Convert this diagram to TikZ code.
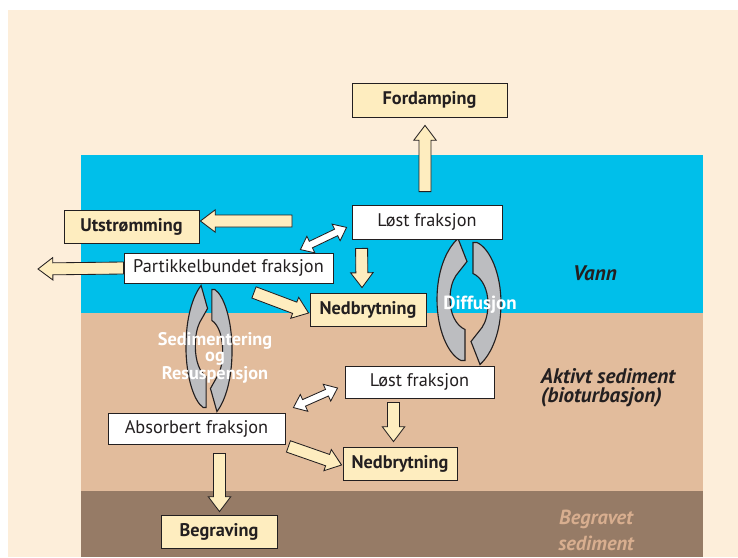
\documentclass[tikz,border=0pt]{standalone}
\usepackage{fontspec}
\setmainfont{PT Sans}
\usetikzlibrary{calc}

\definecolor{paper}{HTML}{FDEEDA}
\definecolor{water}{HTML}{00BFEA}
\definecolor{activesed}{HTML}{E2BC9C}
\definecolor{buriedsed}{HTML}{967B66}
\definecolor{boxyellow}{HTML}{FEEDBF}
\definecolor{cyclegray}{HTML}{BCBDC0}
\definecolor{buriedtext}{HTML}{D8AE8F}
\definecolor{ink}{HTML}{231F20}

\tikzset{
  fraction/.style={draw=ink, fill=white, line width=0.6pt, text=ink, inner sep=0pt,
    font=\fontsize{13}{15}\selectfont},
  outcome/.style={fraction, fill=boxyellow, font=\fontsize{13}{15}\selectfont\bfseries},
  layerlabel/.style={text=ink, align=left, font=\fontsize{15}{13.5}\selectfont\bfseries\itshape},
  flowlabel/.style={text=white, align=center, font=\fontsize{13}{11.5}\selectfont\bfseries},
  yarrow/.style={fill=boxyellow, draw=ink, line width=0.6pt, line join=miter},
  warrow/.style={fill=white, draw=ink, line width=0.6pt, line join=miter},
  cycarrow/.style={fill=cyclegray, draw=ink, line width=0.8pt},
}

% broad arrow from #2 to #3
\newcommand\flowarrow[3][yarrow]{%
  \coordinate (fa-a) at #2;
  \coordinate (fa-b) at #3;
  \coordinate (fa-n) at ($(fa-b)!3.7mm!(fa-a)$);
  \draw[#1] ($(fa-a)!1.5mm!90:(fa-b)$) -- ($(fa-n)!1.5mm!90:(fa-b)$)
    -- ($(fa-n)!2.8mm!90:(fa-b)$) -- (fa-b) -- ($(fa-n)!2.8mm!-90:(fa-b)$)
    -- ($(fa-n)!1.5mm!-90:(fa-b)$) -- ($(fa-a)!1.5mm!-90:(fa-b)$) -- cycle;
}

% broad arrow with a head at both ends
\newcommand\swaparrow[2]{%
  \coordinate (sa-a) at #1;
  \coordinate (sa-b) at #2;
  \coordinate (sa-m) at ($(sa-a)!2.9mm!(sa-b)$);
  \coordinate (sa-n) at ($(sa-b)!2.9mm!(sa-a)$);
  \draw[warrow] (sa-a) -- ($(sa-m)!2.3mm!90:(sa-b)$) -- ($(sa-m)!0.9mm!90:(sa-b)$)
    -- ($(sa-n)!0.9mm!-90:(sa-a)$) -- ($(sa-n)!2.3mm!-90:(sa-a)$) -- (sa-b)
    -- ($(sa-n)!2.3mm!90:(sa-a)$) -- ($(sa-n)!0.9mm!90:(sa-a)$)
    -- ($(sa-m)!0.9mm!-90:(sa-b)$) -- ($(sa-m)!2.3mm!-90:(sa-b)$) -- cycle;
}

% two curved arrows turning round a centre
\newcommand\cyclepair[2]{%
  \begin{scope}[shift={#1}, xscale=#2]
    \foreach \turn in {0,180}
      \draw[cycarrow, rotate=\turn] (-4,-59) -- (-4,-28)
        .. controls (-13,-24) and (-19,-12) .. (-19,2)
        .. controls (-19,12) and (-17,20) .. (-13,26) -- (-2,40) -- (-11,63)
        .. controls (-23,52) and (-32,30) .. (-32,2)
        .. controls (-32,-28) and (-21,-53) .. (-8,-59) -- cycle;
  \end{scope}
}

\begin{document}
\begin{tikzpicture}[x=0.25mm,y=0.25mm]
\useasboundingbox (0,0) rectangle (738,557);
\fill[white] (0,0) rectangle (738,557);
\fill[paper] (8,0) rectangle (738,547);

% layers
\fill[water] (81,244) rectangle (703,402);
\fill[activesed] (81,66) rectangle (703,244);
\fill[buriedsed] (81,0) rectangle (703,66);

\cyclepair{(469,255.5)}{1}
\cyclepair{(209,208.5)}{0.72}

% boxes
\node[outcome, minimum width=38.75mm, minimum height=8.5mm] (fd) at (429.5,457) {Fordamping};
\node[fraction, minimum width=37.5mm, minimum height=8.5mm] (lw) at (427,335) {Løst fraksjon};
\node[outcome, minimum width=33.75mm, minimum height=8.25mm] (ut) at (131.5,330.5) {Utstrømming};
\node[fraction, minimum width=52.25mm, minimum height=7.5mm] (pb) at (228.5,289) {Partikkelbundet fraksjon};
\node[outcome, minimum width=29mm, minimum height=8.25mm] (nw) at (368,247.5) {Nedbrytning};
\node[fraction, minimum width=37.25mm, minimum height=8mm] (ls) at (419.5,175) {Løst fraksjon};
\node[fraction, minimum width=44.25mm, minimum height=7.75mm] (ab) at (196.5,128.5) {Absorbert fraksjon};
\node[outcome, minimum width=28.5mm, minimum height=8.25mm] (ns) at (400,93.5) {Nedbrytning};
\node[outcome, minimum width=29mm, minimum height=8.25mm] (bg) at (219,25.5) {Begraving};

\coordinate (ut-src) at (292,336);
\coordinate (pb-out) at (38,288);

% flows in the water
\flowarrow{($(lw.north)+(-2,13)$)}{($(fd.south)+(-4.5,-8)$)}
\flowarrow{(ut-src)}{($(ut.east)+(1,5.5)$)}
\flowarrow{(pb.west)}{(pb-out)}
\swaparrow{($(pb.north east)+(-33,3)$)}{($(lw.south west)+(-5,12)$)}
\flowarrow{($(lw.south west)+(10,-9)$)}{($(nw.north)+(-6,5)$)}
\flowarrow{($(pb.south)+(25.5,-9)$)}{($(nw.west)+(-1,-3.5)$)}

% flows in the sediment
\swaparrow{($(ab.north east)+(8,5)$)}{($(ls.west)+(-7,-6)$)}
\flowarrow{($(ls.south)+(-26,-4)$)}{($(ns.north)+(-6.5,5)$)}
\flowarrow{($(ab.south east)+(3,-2)$)}{($(ns.west)+(-1,-1.5)$)}
\flowarrow{($(ab.south)+(23,-9)$)}{($(bg.north)+(0.5,3)$)}

% labels
\node[flowlabel, font=\fontsize{13.5}{13.5}\selectfont\bfseries] (dif) at (480,252) {Diffusjon};
\node[flowlabel] (sed) at (215,199) {Sedimentering\\og\\Resuspensjon};
\node[layerlabel] (vann) at (595,284) {Vann};
\node[layerlabel, anchor=west] (akt) at (536,169.5) {Aktivt sediment\\(bioturbasjon)};
\node[layerlabel, text=buriedtext, align=center, font=\fontsize{14.5}{18.5}\selectfont\bfseries\itshape] (begr) at (596,27) {Begravet\\sediment};
\end{tikzpicture}
\end{document}
